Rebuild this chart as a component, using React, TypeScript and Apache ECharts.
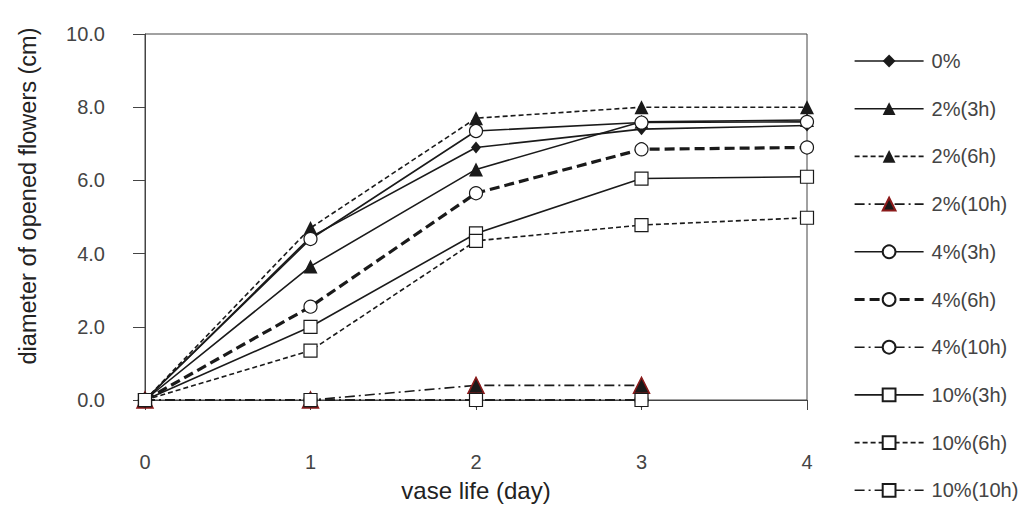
import React, { useEffect, useRef } from "react";
import * as echarts from "echarts";

const days = [0, 1, 2, 3, 4];
const yTicks = [0, 2, 4, 6, 8, 10];

const s0 = [0, 4.45, 6.9, 7.4, 7.5];
const s2_3h = [0, 3.65, 6.3, 7.6, 7.65];
const s2_6h = [0, 4.7, 7.7, 8.0, 8.0];
const s2_10h = [0, 0, 0.4, 0.4, null];
const s4_3h = [0, 4.4, 7.35, 7.58, 7.6];
const s4_6h = [0, 2.55, 5.65, 6.85, 6.9];
const s4_10h = [0, 0, 0, 0, null];
const s10_3h = [0, 2.0, 4.55, 6.05, 6.1];
const s10_6h = [0, 1.35, 4.35, 4.78, 4.98];
const s10_10h = [0, 0, 0, 0, null];

const names = ["0%", "2%(3h)", "2%(6h)", "2%(10h)", "4%(3h)", "4%(6h)", "4%(10h)", "10%(3h)", "10%(6h)", "10%(10h)"];
const values = [s0, s2_3h, s2_6h, s2_10h, s4_3h, s4_6h, s4_10h, s10_3h, s10_6h, s10_10h];

const INK = "#1a1a1a";
const DASH = [5, 3];
const THICKDASH = [10, 5];
const DASHDOT = [10, 4, 2, 4];

type Style = { symbol: string; size: number | number[]; fill: string; border: string; bw: number; width: number; dash: any };
const styles: Style[] = [
  { symbol: "diamond", size: [10, 12], fill: INK, border: INK, bw: 0, width: 1.6, dash: "solid" },
  { symbol: "triangle", size: 14, fill: INK, border: INK, bw: 0, width: 1.6, dash: "solid" },
  { symbol: "triangle", size: 14, fill: INK, border: INK, bw: 0, width: 1.6, dash: DASH },
  { symbol: "triangle", size: 16, fill: INK, border: "#8b1a1a", bw: 1.5, width: 1.6, dash: DASHDOT },
  { symbol: "circle", size: 13, fill: "#fff", border: INK, bw: 1.2, width: 1.6, dash: "solid" },
  { symbol: "circle", size: 13, fill: "#fff", border: INK, bw: 1.2, width: 3.2, dash: THICKDASH },
  { symbol: "circle", size: 13, fill: "#fff", border: INK, bw: 1.2, width: 1.6, dash: DASHDOT },
  { symbol: "rect", size: 13, fill: "#fff", border: INK, bw: 1.2, width: 1.6, dash: "solid" },
  { symbol: "rect", size: 13, fill: "#fff", border: INK, bw: 1.2, width: 1.6, dash: DASH },
  { symbol: "rect", size: 13, fill: "#fff", border: INK, bw: 1.2, width: 1.6, dash: DASHDOT },
];

export default function App() {
  const ref = useRef<HTMLDivElement>(null);
  useEffect(() => {
    if (!ref.current) return;
    const chart = echarts.init(ref.current, undefined, { renderer: "svg" });
    const font = "'Liberation Sans', Arial, sans-serif";
    chart.setOption({
      animation: false,
      backgroundColor: "#fff",
      textStyle: { fontFamily: font },
      grid: { left: 145, right: 226, top: 34, bottom: 106, show: true, borderColor: "#444", borderWidth: 1 },
      legend: {
        orient: "vertical",
        left: 853,
        top: 51,
        padding: 0,
        itemWidth: 69,
        itemHeight: 16,
        itemGap: 27.7,
        textStyle: { fontSize: 20, color: "#444", fontFamily: font, padding: [0, 0, 0, 3] },
        data: names.map((n, i) => ({
          name: n,
          lineStyle: { width: styles[i].width, type: styles[i].dash, color: INK },
        })),
      },
      xAxis: {
        type: "value",
        min: 0,
        max: 4,
        interval: 1,
        name: "vase life (day)",
        nameLocation: "middle",
        nameGap: 78,
        nameTextStyle: { fontSize: 24, color: "#222", fontFamily: font },
        axisLine: { show: true, lineStyle: { color: "#444", width: 1 } },
        axisTick: { show: true, length: 10, lineStyle: { color: "#444" } },
        axisLabel: { fontSize: 20, color: "#444", margin: 52, fontFamily: font },
        splitLine: { show: false },
      },
      yAxis: {
        type: "value",
        min: yTicks[0],
        max: yTicks[yTicks.length - 1],
        interval: 2,
        name: "diameter of opened flowers (cm)",
        nameLocation: "middle",
        nameGap: 105,
        nameTextStyle: { fontSize: 23.5, color: "#222", fontFamily: font, padding: [0, 0, 0, 42] },
        axisLine: { show: true, lineStyle: { color: "#444", width: 1 } },
        axisTick: { show: true, length: 12, lineStyle: { color: "#444" } },
        axisLabel: { fontSize: 20, color: "#444", margin: 40, fontFamily: font, formatter: (v: number) => v.toFixed(1) },
        splitLine: { show: false },
      },
      series: names.map((n, i) => {
        const st = styles[i];
        return {
          name: n,
          type: "line",
          clip: false,
          data: values[i].map((v, j) => [days[j], v]),
          symbol: st.symbol,
          symbolSize: st.size,
          showAllSymbol: true,
          connectNulls: false,
          itemStyle: { color: st.fill, borderColor: st.border, borderWidth: st.bw, opacity: 1 },
          lineStyle: { color: INK, width: st.width, type: st.dash },
          emphasis: { disabled: true },
        };
      }),
    });
    return () => chart.dispose();
  }, []);
  return <div ref={ref} style={{ width: 1033, height: 507, position: "absolute", left: 0, top: 0 }} />;
}
